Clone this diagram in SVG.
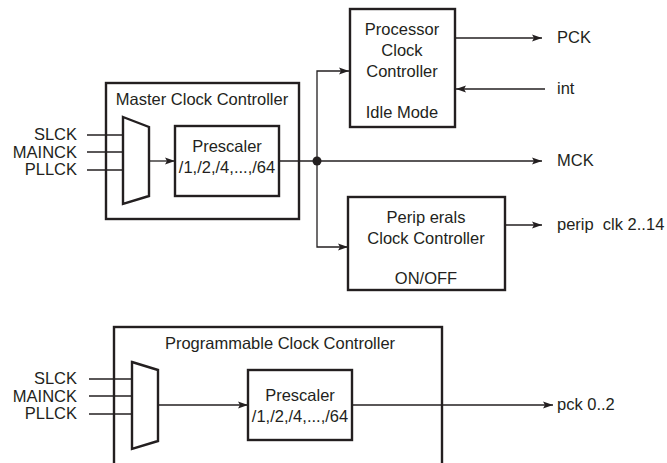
<svg xmlns="http://www.w3.org/2000/svg" width="667" height="463" viewBox="0 0 667 463">
<style>
text{font-family:"Liberation Sans",Arial,sans-serif;font-size:16.5px;fill:#231f20}
.box{fill:none;stroke:#231f20;stroke-width:2.4}
.mux{fill:#fff;stroke:#231f20;stroke-width:2.4}
.ln{fill:none;stroke:#231f20;stroke-width:1.3}
.arr{fill:none;stroke:#231f20;stroke-width:1.3;marker-end:url(#ah)}
.m{text-anchor:middle}
.r{text-anchor:end}
</style>
<defs>
<marker id="ah" markerWidth="10" markerHeight="8" refX="10" refY="4" orient="auto" markerUnits="userSpaceOnUse">
<path d="M0,0.5 L10,4 L0,7.5 L2,4 Z" fill="#231f20"/>
</marker>
</defs>
<g id="connectors">
<line class="ln" x1="87" y1="135" x2="123" y2="135"/>
<line class="ln" x1="87" y1="152" x2="123" y2="152"/>
<line class="ln" x1="87" y1="170" x2="123" y2="170"/>
<line class="arr" x1="149" y1="161" x2="175" y2="161"/>
<line class="ln" x1="279" y1="161" x2="317" y2="161"/>
<line class="arr" x1="317" y1="161" x2="542" y2="161"/>
<polyline class="arr" points="317,161 317,71 349,71"/>
<polyline class="arr" points="317,161 317,247 348,247"/>
<circle cx="317" cy="161" r="4.5" fill="#231f20"/>
<line class="arr" x1="455" y1="38" x2="542" y2="38"/>
<line class="arr" x1="545" y1="89" x2="456" y2="89"/>
<line class="arr" x1="505" y1="225" x2="542" y2="225"/>
<line class="ln" x1="89" y1="379" x2="132" y2="379"/>
<line class="ln" x1="89" y1="396" x2="132" y2="396"/>
<line class="ln" x1="89" y1="414" x2="132" y2="414"/>
<line class="arr" x1="158" y1="405" x2="248" y2="405"/>
<line class="arr" x1="352" y1="405" x2="553" y2="405"/>
</g>
<g id="master">
<rect class="box" x="106" y="83" width="193" height="136"/>
<text class="m" x="202" y="105">Master Clock Controller</text>
<text class="r" x="77" y="140">SLCK</text>
<text class="r" x="77" y="158">MAINCK</text>
<text class="r" x="77" y="175">PLLCK</text>
</g>
<g id="mux1">
<polygon class="mux" points="123,117 149,127 149,196 123,204"/>
</g>
<g id="prescaler1">
<rect class="box" x="175" y="126" width="104" height="70"/>
<text class="m" x="227" y="152">Prescaler</text>
<text class="m" x="227" y="173">/1,/2,/4,...,/64</text>
</g>
<g id="processor">
<rect class="box" x="350" y="9" width="105" height="118"/>
<text class="m" x="402" y="35">Processor</text>
<text class="m" x="402" y="56">Clock</text>
<text class="m" x="402" y="77">Controller</text>
<text class="m" x="402" y="118">Idle Mode</text>
</g>
<g id="peripherals">
<rect class="box" x="348" y="197" width="157" height="93"/>
<text class="m" x="426" y="223">Perip erals</text>
<text class="m" x="426" y="244">Clock Controller</text>
<text class="m" x="426" y="284">ON/OFF</text>
</g>
<g id="outputs">
<text x="557" y="43">PCK</text>
<text x="557" y="94">int</text>
<text x="557" y="166">MCK</text>
<text x="557" y="230">perip&#160; clk 2..14</text>
<text x="557" y="410">pck 0..2</text>
</g>
<g id="programmable">
<rect class="box" x="114" y="327" width="328" height="150"/>
<text class="m" x="280" y="349">Programmable Clock Controller</text>
<text class="r" x="77" y="384">SLCK</text>
<text class="r" x="77" y="402">MAINCK</text>
<text class="r" x="77" y="419">PLLCK</text>
</g>
<g id="mux2">
<polygon class="mux" points="132,362 158,370 158,441 132,449"/>
</g>
<g id="prescaler2">
<rect class="box" x="248" y="370" width="104" height="70"/>
<text class="m" x="300" y="401">Prescaler</text>
<text class="m" x="300" y="422">/1,/2,/4,...,/64</text>
</g>
</svg>
